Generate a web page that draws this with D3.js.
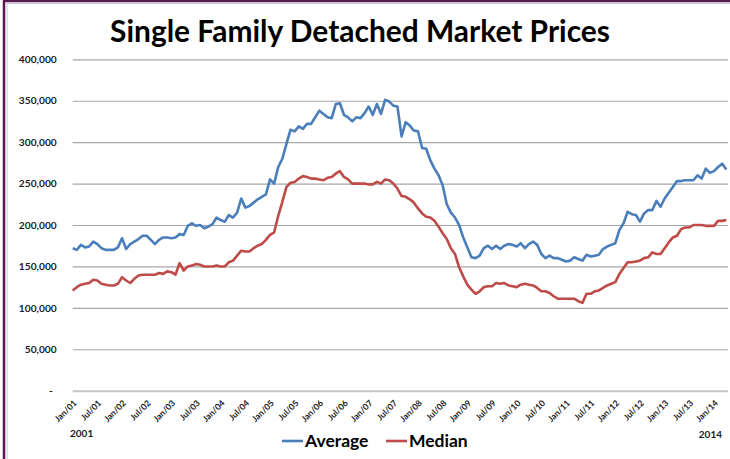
<!DOCTYPE html>
<html>
<head>
<meta charset="utf-8">
<script src="https://cdn.jsdelivr.net/npm/d3@7"></script>
<style>
  body { margin: 0; background: #fff; }
  svg { display: block; font-family: Lato, "Open Sans", sans-serif; }
</style>
</head>
<body>
<div id="chart"></div>
<script>
// monthly values, Jan 2001 - Apr 2014 (thousands of dollars)
const average = [
  172,170,176,173,174,180,177,172,170,170,170,173,
  184,171,177,180,183,187,187,182,177,182,185,185,
  184,185,189,188,199,202,199,200,196,198,201,209,
  206,204,212,209,215,232,221,223,227,231,234,237,
  255,250,270,280,298,315,313,319,316,322,322,330,
  338,334,330,329,346,347,333,330,325,330,329,335,
  343,333,346,334,351,349,344,343,307,324,320,314,
  313,293,292,278,268,260,248,225,215,209,200,185,
  173,161,160,163,172,175,171,175,171,175,177,176,
  174,178,172,177,180,176,165,160,163,160,160,158,
  156,157,161,159,157,164,162,163,164,171,174,176,
  178,194,202,216,213,212,204,214,218,218,229,222,
  232,239,246,253,253,254,254,254,260,256,268,263,
  265,270,274,267
];
const median = [
  121,125,128,129,130,134,133,129,128,127,127,129,
  137,133,130,135,139,140,140,140,140,142,141,144,
  143,140,154,145,150,151,153,152,150,150,150,151,
  150,150,155,157,163,169,168,168,172,175,177,182,
  188,191,211,228,246,251,252,256,259,258,256,256,
  255,254,257,258,262,265,258,255,250,250,250,250,
  249,249,252,250,255,254,250,244,235,234,231,227,
  220,214,210,209,205,198,190,183,172,165,149,138,
  128,122,117,120,125,126,126,130,129,130,127,126,
  125,128,129,128,127,124,120,120,118,114,111,111,
  111,111,111,108,106,117,117,120,121,124,127,129,
  131,141,148,155,155,156,157,160,161,167,165,165,
  172,179,185,187,195,197,197,200,200,200,199,199,
  199,205,205,206
];
const months = d3.timeMonths(new Date(2001, 0, 1), new Date(2014, 4, 1));
const xTickLabels = [
  "Jan/01","Jul/01","Jan/02","Jul/02","Jan/03","Jul/03","Jan/04","Jul/04",
  "Jan/05","Jul/05","Jan/06","Jul/06","Jan/07","Jul/07","Jan/08","Jul/08",
  "Jan/09","Jul/09","Jan/10","Jul/10","Jan/11","Jul/11","Jan/12","Jul/12",
  "Jan/13","Jul/13","Jan/14"
];
const yTicks = [0, 50000, 100000, 150000, 200000, 250000, 300000, 350000, 400000];
const seriesNames = ["Average", "Median"];
const seriesColors = ["#4a7ebb", "#be4b48"];

const width = 730, height = 459;

const svg = d3.select("#chart")
  .append("svg")
  .attr("width", width)
  .attr("height", height);

// outer frame
svg.append("rect")
  .attr("x", 7).attr("y", 3.5)
  .attr("width", 740).attr("height", 470)
  .attr("fill", "none").attr("stroke", "#c8c8c8").attr("stroke-width", 1);
svg.append("rect")
  .attr("x", 4).attr("y", 1)
  .attr("width", 740).attr("height", 470)
  .attr("fill", "none").attr("stroke", "#5a1650").attr("stroke-width", 2.5);

const x = d3.scaleLinear()
  .domain([0, months.length - 1])
  .range([72.7, 726.3]);

const y = d3.scaleLinear()
  .domain([0, 400000])
  .range([390.7, 59.3]);

// gridlines + y labels
const yAxis = svg.append("g")
  .attr("transform", "translate(72.7,0)")
  .call(d3.axisLeft(y)
    .tickValues(yTicks)
    .tickSize(-(728 - 72.7))
    .tickFormat(d => d === 0 ? "-" : d3.format(",")(d)));
yAxis.select(".domain").remove();
yAxis.selectAll(".tick line")
  .attr("stroke-width", d => d === 0 ? 2 : 1.2)
  .attr("stroke", d => d === 0 ? "#c4c4c4" : "#a6a6a6");
yAxis.selectAll(".tick text")
  .attr("font-family", "Lato, sans-serif")
  .attr("font-weight", "bold")
  .attr("font-size", 10.2)
  .attr("fill", "#1a1a1a")
  .attr("x", d => d === 0 ? -20 : -16);

// x labels
const xAxis = svg.append("g")
  .attr("transform", "translate(0,390.7)")
  .call(d3.axisBottom(x)
    .tickValues(d3.range(0, 157, 6))
    .tickSize(0)
    .tickFormat((d, i) => xTickLabels[i]));
xAxis.select(".domain").remove();
xAxis.selectAll(".tick text")
  .attr("font-family", "Lato, sans-serif")
  .attr("font-weight", "bold")
  .attr("font-size", 8.6)
  .attr("fill", "#1a1a1a")
  .attr("text-anchor", "end")
  .attr("x", 0).attr("y", 0).attr("dy", null)
  .attr("transform", "translate(4,13) rotate(-45)");

// lines
const line = d3.line()
  .x((d, i) => x(i))
  .y(d => y(d * 1000));

svg.selectAll(".series")
  .data([average, median])
  .join("path")
  .attr("class", "series")
  .attr("fill", "none")
  .attr("stroke", (d, i) => seriesColors[i])
  .attr("stroke-width", 2.6)
  .attr("stroke-linejoin", "round")
  .attr("d", line);

// title
const title = svg.append("text")
  .attr("x", 360).attr("y", 42)
  .attr("text-anchor", "middle")
  .attr("font-family", "Lato, sans-serif")
  .attr("font-weight", "bold")
  .attr("font-size", 26)
  .attr("fill", "#000")
  .text("Single Family Detached Market Prices");
const tw = title.node().getComputedTextLength();
title.attr("font-size", 26 * 500 / tw);

// year notes
svg.append("text")
  .attr("x", 70).attr("y", 437)
  .attr("font-weight", "bold").attr("font-size", 10).attr("fill", "#1a1a1a")
  .text("2001");
svg.append("text")
  .attr("x", 722).attr("y", 438)
  .attr("text-anchor", "end")
  .attr("font-weight", "bold").attr("font-size", 10).attr("fill", "#1a1a1a")
  .text("2014");

// legend
const legendX = [282, 386];
const legend = svg.selectAll(".legend")
  .data(seriesNames)
  .join("g")
  .attr("class", "legend")
  .attr("transform", (d, i) => `translate(${legendX[i]},441)`);
legend.append("line")
  .attr("x1", 0).attr("x2", 21)
  .attr("stroke", (d, i) => seriesColors[i])
  .attr("stroke-width", 2.6);
legend.append("text")
  .attr("x", 23).attr("y", 6)
  .attr("font-weight", "bold")
  .attr("font-size", 17.5)
  .attr("fill", "#000")
  .text(d => d);
</script>
</body>
</html>
